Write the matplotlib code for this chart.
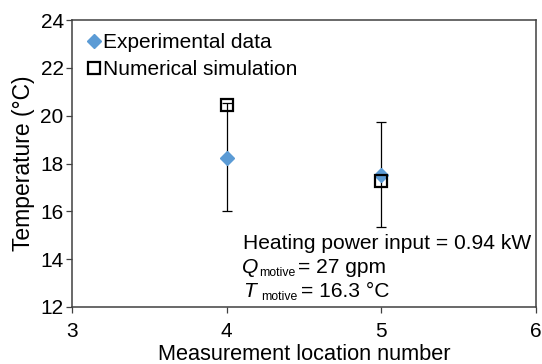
import matplotlib
matplotlib.use("Agg")
import matplotlib.pyplot as plt

plt.rcParams['font.family'] = ['Liberation Sans', 'DejaVu Sans']

locations = [4, 5]
experimental = [18.22, 17.52]
err_low = [2.19, 2.19]
err_high = [2.30, 2.22]
simulation = [20.45, 17.25]

W, H = 542, 364
fig = plt.figure(figsize=(W/100, H/100), dpi=100)
ax = fig.add_axes([72/W, 1-307/H, (536-72)/W, (307-20)/H])

ax.errorbar(locations, experimental, yerr=[err_low, err_high], fmt='none', ecolor='black',
            elinewidth=0.9, capsize=3.6, capthick=0.9, zorder=2)
ax.plot(locations, experimental, linestyle='none', marker='D', color='#5B9BD5',
        markersize=7.5, label='Experimental data', zorder=3)
ax.plot(locations, simulation, linestyle='none', marker='s', markerfacecolor='none',
        markeredgecolor='black', markeredgewidth=1.6, markersize=9,
        label='Numerical simulation', zorder=4)

ax.set_xlim(3, 6)
ax.set_ylim(12, 24)
ax.set_xticks([3, 4, 5, 6])
ax.set_yticks([12, 14, 16, 18, 20, 22, 24])
ax.tick_params(labelsize=15, direction='out', length=4, width=0.9, color='#404040')
ax.tick_params(axis='x', pad=7)
ax.tick_params(axis='y', pad=2)
for s in ax.spines.values():
    s.set_linewidth(1.1)
    s.set_color('#404040')

ax.set_xlabel('Measurement location number', fontsize=15.7, labelpad=2)
ax.set_ylabel('Temperature (°C)', fontsize=16.5, labelpad=4)

leg = ax.legend(loc='upper left', frameon=False, fontsize=15, handlelength=0.6,
                handletextpad=0.12, borderaxespad=0.0, labelspacing=0.36,
                bbox_to_anchor=(0.016, 0.982))

def ftext(x, y, s, **kw):
    fig.text(x/W, 1-y/H, s, va='baseline', ha='left', **kw)

ftext(243, 249, 'Heating power input = 0.94 kW', fontsize=15.1)
ftext(242, 273, 'Q', fontsize=15.1, style='italic')
ftext(259, 275.5, 'motive', fontsize=8.8)
ftext(298, 273, '= 27 gpm', fontsize=15.1)
ftext(243, 297, 'T', fontsize=15.1, style='italic')
ftext(261, 299.5, 'motive', fontsize=8.8)
ftext(301, 297, '= 16.3 °C', fontsize=15.1)

fig.savefig('out.png', dpi=100)
